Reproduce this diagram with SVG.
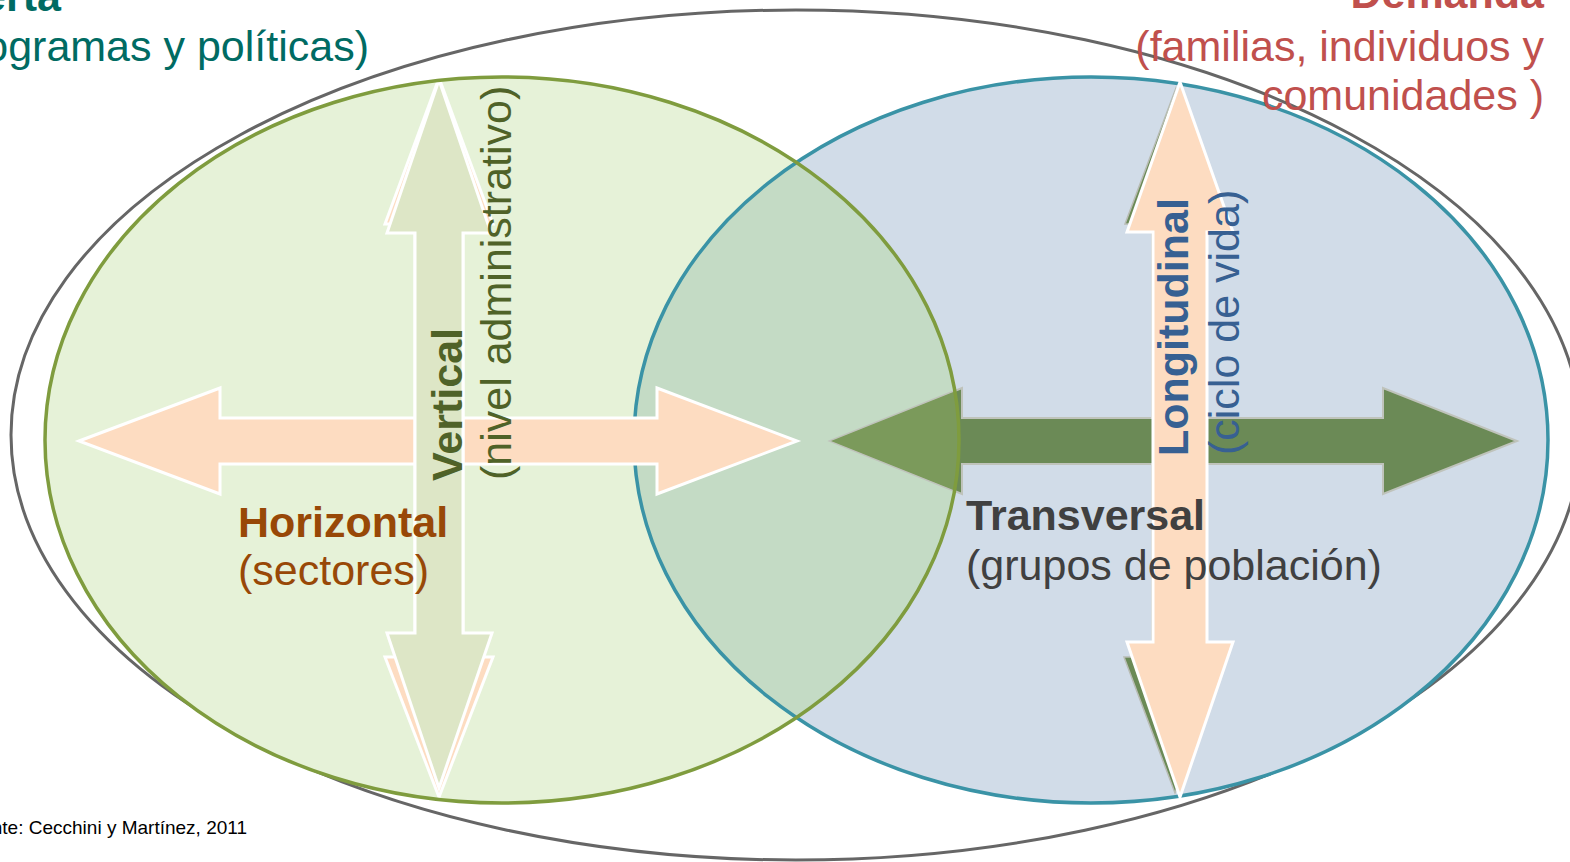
<svg xmlns="http://www.w3.org/2000/svg" width="1570" height="862" viewBox="0 0 1570 862">
<style>
.t{font-family:"Liberation Sans",Arial,sans-serif;font-size:43px}
.b{font-weight:bold}
.orange{fill:#fddcc1;stroke:#ffffff;stroke-width:3;stroke-linejoin:miter}
.olive{fill:#dde6c6;stroke:#ffffff;stroke-width:3}
.dg{fill:#6b8a56;stroke:#bfc3bb;stroke-width:2}
</style>
<defs>
<clipPath id="cg"><ellipse cx="502" cy="440" rx="457" ry="363"/></clipPath>
</defs>
<rect width="1570" height="862" fill="#ffffff"/>
<g id="outer">
<ellipse cx="796" cy="435" rx="785" ry="425" fill="#ffffff" stroke="#666666" stroke-width="3"/>
</g>
<g id="oferta-ellipse">
<ellipse cx="502" cy="440" rx="457" ry="363" fill="#e6f2d8"/>
</g>
<g id="demanda-ellipse">
<ellipse cx="1091" cy="440" rx="457" ry="363" fill="#d1dce8"/>
<ellipse cx="1091" cy="440" rx="457" ry="363" fill="#c4dbc5" clip-path="url(#cg)"/>
<ellipse cx="1091" cy="440" rx="457" ry="363" fill="none" stroke="#3a93a6" stroke-width="3.5"/>
</g>
<g id="connectors">
<polygon id="horizontal-arrow" class="orange" points="79,441 220,388 220,418 657,418 657,388 797,441 657,494 657,464 220,464 220,494"/>
<polygon id="longitudinal-shadow" fill="#6b8a56" stroke="#b8bcb4" stroke-width="1.5" points="1176,88 1229,224 1202,224 1202,657 1228,657 1175,793 1124,657 1152,657 1152,224 1125,224"/>
<polygon id="transversal-arrow" class="dg" points="830,441 962,388 962,418 1383,418 1383,388 1517,441 1383,494 1383,464 962,464 962,494"/>
<polygon fill="#7b9a5b" clip-path="url(#cg)" points="831,441 961,389 961,493"/>
<polygon id="vertical-back" class="orange" points="439,78 493,224 463,224 463,657 493,657 439,797 385,657 415,657 415,224 385,224"/>
<polygon id="vertical-arrow" class="olive" points="439,80 491,233 463,233 463,633 492,633 439,788 387,633 415,633 415,233 387,233"/>
<polygon id="longitudinal-arrow" class="orange" points="1180,82 1233,232 1207,232 1207,642 1233,642 1180,797 1127,642 1153,642 1153,232 1127,232"/>
</g>
<g id="oferta-stroke">
<ellipse cx="502" cy="440" rx="457" ry="363" fill="none" stroke="#7f9c3e" stroke-width="3.5"/>
</g>
<g id="label-oferta">
<text class="t b" x="61" y="11" text-anchor="end" fill="#006b63">Oferta</text>
<text class="t" x="369" y="61" text-anchor="end" fill="#006b63">(programas y políticas)</text>
</g>
<g id="label-demanda">
<text class="t b" x="1544" y="8" text-anchor="end" fill="#c0504d">Demanda</text>
<text class="t" x="1544" y="61" text-anchor="end" fill="#c0504d">(familias, individuos y</text>
<text class="t" x="1544" y="110" text-anchor="end" fill="#c0504d">comunidades )</text>
</g>
<g id="label-horizontal">
<text class="t b" x="238" y="537" fill="#984807">Horizontal</text>
<text class="t" x="238" y="585" fill="#984807">(sectores)</text>
</g>
<g id="label-vertical">
<text class="t b" transform="translate(462,481) rotate(-90)" fill="#4f6228">Vertical</text>
<text class="t" transform="translate(511,480) rotate(-90)" fill="#4f6228">(nivel administrativo)</text>
</g>
<g id="label-longitudinal">
<text class="t b" transform="translate(1188,456) rotate(-90)" fill="#376092">Longitudinal</text>
<text class="t" transform="translate(1239,455) rotate(-90)" fill="#376092">(ciclo de vida)</text>
</g>
<g id="label-transversal">
<text class="t b" x="966" y="530" fill="#404040">Transversal</text>
<text class="t" x="966" y="580" fill="#404040">(grupos de población)</text>
</g>
<g id="source">
<text x="247" y="834" text-anchor="end" font-family="'Liberation Sans',Arial,sans-serif" font-size="19" fill="#000000">Fuente: Cecchini y Martínez, 2011</text>
</g>
</svg>
